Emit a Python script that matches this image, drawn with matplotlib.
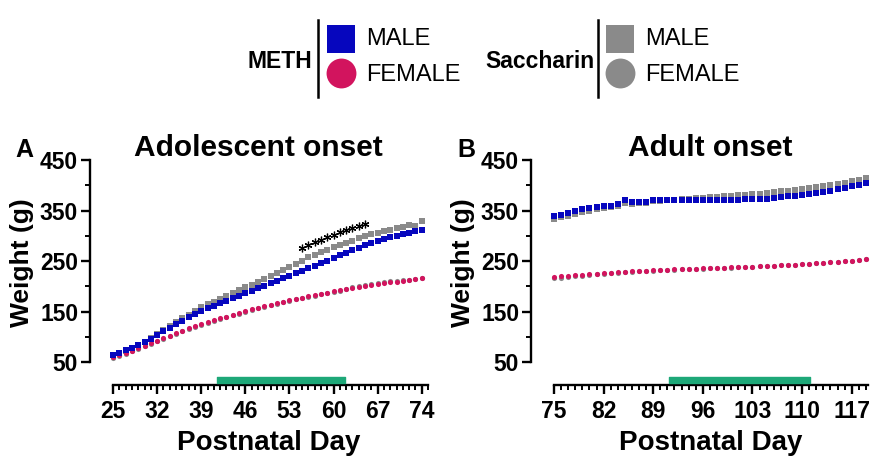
import matplotlib
matplotlib.use("Agg")
import matplotlib.pyplot as plt
from matplotlib.lines import Line2D
from matplotlib.ticker import MultipleLocator, FixedLocator

plt.rcParams['font.family'] = ['Liberation Sans', 'DejaVu Sans']

# ---------------- data ----------------
days_a = list(range(25, 75))
meth_male_a = [64, 68, 73, 78, 83, 89, 96, 104, 111, 118, 125, 132, 139, 145, 151,
               156, 161, 166, 171, 176, 181, 186, 191, 196, 201, 206, 211, 216, 221,
               226, 231, 236, 241, 246, 251, 256, 261, 266, 271, 276, 281, 285, 289,
               293, 297, 300, 303, 306, 309, 311]
sacc_male_a = [63, 67, 72, 77, 83, 89, 97, 105, 113, 121, 129, 137, 144, 151, 158,
               164, 169, 175, 180, 186, 192, 198, 203, 209, 215, 221, 227, 233, 239,
               245, 251, 257, 262, 267, 272, 277, 282, 286, 290, 295, 299, 303, 306,
               309, 312, 315, 318, 322, 320, 330]
meth_female_a = [59, 63, 67, 72, 77, 82, 87, 92, 97, 102, 107, 112, 117, 121, 125,
                 129, 133, 137, 140, 144, 147, 151, 154, 157, 160, 163, 166, 169, 172,
                 175, 177, 180, 182, 185, 187, 190, 192, 194, 196, 198, 200, 202, 204,
                 206, 208, 209, 211, 212, 214, 216]
sacc_female_a = [58, 62, 66, 71, 76, 81, 86, 91, 96, 101, 106, 111, 116, 120, 124,
                 128, 132, 136, 139, 143, 146, 150, 153, 156, 159, 162, 165, 168, 171,
                 174, 176, 179, 181, 184, 186, 189, 191, 195, 198, 200, 203, 205, 207,
                 208, 210, 211, 212, 213, 215, 217]

days_b = list(range(75, 120))
meth_male_b = [339, 342, 345, 349, 352, 355, 357, 358, 359, 362, 370, 367, 366, 366,
               370, 371, 371, 371, 371, 370, 370, 370, 370, 371, 371, 371, 371, 372,
               372, 372, 373, 374, 376, 378, 379, 381, 383, 385, 387, 389, 392, 395,
               398, 401, 404]
sacc_male_b = [334, 337, 340, 344, 347, 350, 352, 354, 356, 359, 364, 363, 364, 365,
               368, 369, 370, 371, 372, 373, 374, 375, 376, 377, 378, 379, 380, 381,
               382, 383, 384, 386, 388, 389, 391, 392, 394, 396, 398, 400, 402, 405,
               408, 411, 414]
meth_female_b = [219, 220, 221, 222, 223, 224, 225, 226, 227, 228, 229, 230, 231, 231,
                 232, 233, 233, 234, 234, 235, 235, 236, 236, 237, 237, 238, 238, 239,
                 239, 240, 241, 241, 242, 243, 243, 244, 245, 246, 247, 248, 249, 250,
                 251, 252, 253]
sacc_female_b = [216, 217, 218, 220, 221, 222, 224, 225, 226, 227, 228, 229, 230, 230,
                 231, 232, 233, 233, 234, 234, 235, 235, 236, 236, 237, 237, 238, 238,
                 239, 240, 240, 241, 242, 242, 243, 244, 245, 246, 247, 248, 249, 250,
                 251, 252, 253]

star_days = list(range(55, 66))
exposure_a = (41.5, 61.8)
exposure_b = (91.2, 111.1)

yticks = [50, 150, 250, 350, 450]
xticks_a = [25, 32, 39, 46, 53, 60, 67, 74]
xticks_b = [75, 82, 89, 96, 103, 110, 117]

BLUE = '#0606BE'
PINK = '#D2145E'
GRAY = '#8A8A8A'
GREEN = '#1DA878'

W, H = 878, 470
fig = plt.figure(figsize=(W / 100, H / 100), dpi=100)


def px(x, y):
    return x / W, 1 - y / H


def make_axes(left_px, right_px, xlim, xticks, days, mm, sm, mf, sf, bar):
    l, b = px(left_px, 385)
    r, t = px(right_px, 160)
    ax = fig.add_axes([l, b, r - l, t - b])
    ax.set_xlim(*xlim)
    ax.set_ylim(4.5, 450)
    for s in ['top', 'right']:
        ax.spines[s].set_visible(False)
    ax.spines['left'].set_bounds(50, 450)
    ax.spines['left'].set_position(('outward', 16.6))
    ax.spines['bottom'].set_bounds(*xlim)
    for s in ['left', 'bottom']:
        ax.spines[s].set_linewidth(1.7)
    ax.set_yticks(yticks)
    ax.yaxis.set_minor_locator(FixedLocator([100, 200, 300, 400]))
    ax.set_xticks(xticks)
    ax.xaxis.set_minor_locator(MultipleLocator(1))
    ax.tick_params(which='major', length=6.5, width=1.7, labelsize=16.5, pad=2)
    ax.tick_params(which='minor', length=3.5, width=1.4)
    for lab in ax.get_xticklabels() + ax.get_yticklabels():
        lab.set_fontweight('bold')
    ax.tick_params(axis='x', which='major', pad=4)
    ms_sq, ms_c = 4.1, 3.7
    ax.plot(days, sf, 'o', color=GRAY, ms=ms_c, mew=0, clip_on=False)
    ax.plot(days, sm, 's', color=GRAY, ms=ms_sq, mew=0, clip_on=False)
    ax.plot(days, mf, 'o', color=PINK, ms=ms_c, mew=0, clip_on=False)
    ax.plot(days, mm, 's', color=BLUE, ms=ms_sq, mew=0, clip_on=False)
    ax.broken_barh([(bar[0], bar[1] - bar[0])], (8.4, 12), color=GREEN, zorder=3)
    ax.patch.set_alpha(0)
    return ax


ax_a = make_axes(113, 428, (25, 75), xticks_a, days_a, meth_male_a, sacc_male_a,
                 meth_female_a, sacc_female_a, exposure_a)
ax_b = make_axes(554, 868, (75, 119.3), xticks_b, days_b, meth_male_b, sacc_male_b,
                 meth_female_b, sacc_female_b, exposure_b)

# significance asterisks above saccharin males (drawn as asterisk markers)
star_y = [sacc_male_a[days_a.index(d)] + 25 for d in star_days]
ax_a.plot(star_days, star_y, ls='none', marker=(6, 2, 0), ms=5.5, mew=0.9,
          color='black', clip_on=False)

# titles, panel letters, axis labels
fig.text(*px(258, 148), 'Adolescent onset', ha='center', va='center', fontsize=21.5, fontweight='bold')
fig.text(*px(710, 148), 'Adult onset', ha='center', va='center', fontsize=21.5, fontweight='bold')
fig.text(*px(24, 150), 'A', ha='center', va='center', fontsize=18, fontweight='bold')
fig.text(*px(466, 150), 'B', ha='center', va='center', fontsize=18, fontweight='bold')
for cx in (22, 463):
    fig.text(*px(cx, 263), 'Weight (g)', ha='center', va='center', rotation=90,
             fontsize=19, fontweight='bold')
fig.text(*px(269, 443), 'Postnatal Day', ha='center', va='center', fontsize=20, fontweight='bold')
fig.text(*px(711, 443), 'Postnatal Day', ha='center', va='center', fontsize=20, fontweight='bold')


# legend
def legend_group(label, label_right, line_x, mk_x, text_x, col_m, col_f):
    fig.text(*px(label_right, 62), label, ha='right', va='center', fontsize=16.5, fontweight='bold')
    x0, y0 = px(line_x, 20)
    _, y1 = px(line_x, 97)
    fig.add_artist(Line2D([x0, x0], [y0, y1], color='black', lw=1.8, transform=fig.transFigure))
    mx, my = px(mk_x, 39)
    fig.add_artist(Line2D([mx], [my], marker='s', ms=20.5, color=col_m, mew=0,
                          transform=fig.transFigure))
    mx, my = px(mk_x, 73)
    fig.add_artist(Line2D([mx], [my], marker='o', ms=21.5, color=col_f, mew=0,
                          transform=fig.transFigure))
    fig.text(*px(text_x, 39), 'MALE', ha='left', va='center', fontsize=17)
    fig.text(*px(text_x, 75), 'FEMALE', ha='left', va='center', fontsize=17)


legend_group('METH', 312, 318, 341, 366, BLUE, PINK)
legend_group('Saccharin', 594, 598, 620, 645, GRAY, GRAY)

fig.savefig('out.png', dpi=100)
